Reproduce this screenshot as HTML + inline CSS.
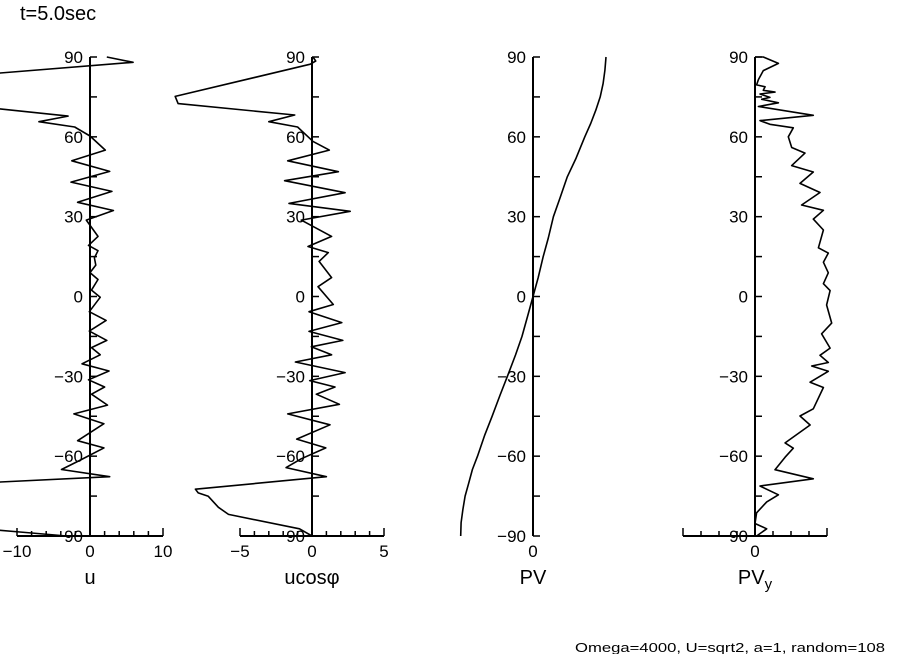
<!DOCTYPE html>
<html><head><meta charset="utf-8"><style>
body{margin:0;background:#fff;}
svg{display:block;font-family:"Liberation Sans",sans-serif;}
</style></head><body>
<svg id="chart" width="904" height="654" viewBox="0 0 904 654" xmlns="http://www.w3.org/2000/svg">
<text x="20" y="20" font-size="20">t=5.0sec</text>
<text x="885" y="652" font-size="13" text-anchor="end" textLength="310" lengthAdjust="spacingAndGlyphs">Omega=4000, U=sqrt2, a=1, random=108</text>
</svg>
<script>
const latTicks = [90, 60, 30, 0, -30, -60, -90];
const uLat = [-90,-88.5,-86,-78,-72,-69.7,-67.7,-65,-61.6,-56.9,-54.2,-47.8,-44.1,-40.8,-36.7,-34,-31.3,-28,-25.3,-21.9,-19.2,-16.5,-13,-9,-5.7,-0.3,2.4,6.4,9,11.8,14.5,17.2,19.2,22.6,28.7,32.3,35.4,39.5,43,47,51,55,60.3,63.7,65.7,67.8,70.5,73,80,84,88,90];
const uVal = [-3.2,-9.6,-20,-22,-20,-12.3,2.7,-3.9,-1.4,1.9,-1.7,1.9,-2.2,2.4,0.2,2.0,-0.2,2.6,-1.1,1.4,0.2,2.3,-0.1,2.2,-0.1,1.4,0.2,1.1,0,0.8,0.6,1.1,-0.2,1.1,-0.5,3.2,-1.7,3.0,-2.6,2.7,-2.5,2.1,0,-2.1,-7,-3,-12.3,-20,-22,-12.3,5.9,2.3];
const ucLat = [-90,-87.3,-81.9,-79.2,-75.1,-73.8,-72.4,-67.7,-64.3,-61,-56.9,-53.6,-48.2,-44.1,-40.5,-36.7,-34,-31.6,-28.6,-24.6,-21.9,-18.9,-16.5,-13.1,-9.8,-5.7,-3,3.7,7.1,13.2,16.5,18.8,22.6,28.7,32,35,39,43.5,46.9,51,55,58.3,63.7,65.7,68.2,72.5,75.2,87.3,88.5,90];
const ucVal = [0,-0.87,-5.8,-6.5,-7.2,-7.9,-8.1,1.0,-1.8,-0.75,0.96,-1.06,1.25,-1.69,1.9,0.3,1.6,-0.16,2.3,-1.15,1.36,-0.05,2.14,-0.21,2.07,-0.21,1.48,0.42,1.36,0.49,1.13,-0.28,1.36,-0.75,2.65,-1.6,2.3,-1.9,1.83,-1.69,1.2,0.07,-1.0,-3.0,-1.2,-9.3,-9.5,-0.12,0.26,0.07];
const pvLat = [-90,-85,-80,-75,-70,-65,-60,-52,-45,-37,-30,-22,-15,-7,0,7,15,22,30,37,45,52,60,65,70,75,80,85,90];
const pvVal = [-0.99,-0.985,-0.96,-0.93,-0.88,-0.83,-0.76,-0.66,-0.56,-0.45,-0.35,-0.24,-0.15,-0.07,0,0.07,0.14,0.21,0.28,0.37,0.47,0.59,0.71,0.79,0.86,0.92,0.96,0.985,1.0];
const pyLat = [90,90,87.6,84.9,81.5,79.5,78.8,77.5,76.8,76.1,74.8,74.1,72.8,71.4,68.1,66.1,64.7,63.4,60,56,53.9,49.2,46.8,42.5,39.1,34.4,32.4,29.1,25,18.3,16.3,12.9,8.9,4.8,2.2,-3.2,-10,-14,-19.4,-22.1,-24.8,-26.1,-28.1,-32.2,-34.2,-42.2,-44.9,-48.3,-55,-57,-60.4,-65.1,-68.5,-71.2,-74.5,-77.2,-81.3,-85.3,-87.3,-90];
const pyVal = [0,0.46,1.3,0.46,0.19,0.09,0.56,0.46,1.11,0.28,0.83,0.37,1.3,0.19,3.24,0.28,0.83,2.13,1.85,2.04,2.78,2.04,3.24,2.5,3.61,2.59,3.8,3.24,3.8,3.52,4.07,3.8,4.07,3.8,4.17,3.98,4.26,3.7,4.17,3.61,4.07,3.15,4.07,3.06,3.8,3.24,2.5,3.06,1.67,2.13,1.67,1.11,3.24,0.28,1.3,0.65,0.09,0,0.65,0.09];

const NS = 'http://www.w3.org/2000/svg';
const svg = document.getElementById('chart');
const yTop = 57, yBot = 536;
function yScale(lat){ return yTop + (90 - lat) * (yBot - yTop) / 180; }
function mk(tag, attrs, parent){ const e = document.createElementNS(NS, tag); for (const k in attrs) e.setAttribute(k, attrs[k]); (parent||svg).appendChild(e); return e; }

const panels = [
 {key:'u', x0:90, ppu:7.3, lat:uLat, val:uVal, xTicks:[-10,0,10], xMin:-10, xMax:10, minor:2, label:'u', labelX:90},
 {key:'ucos', x0:312, ppu:14.4, lat:ucLat, val:ucVal, xTicks:[-5,0,5], xMin:-5, xMax:5, minor:1, label:'ucos\u03c6', labelX:312},
 {key:'pv', x0:533, ppu:73, lat:pvLat, val:pvVal, xTicks:[0], xMin:null, xMax:null, minor:null, label:'PV', labelX:533},
 {key:'pvy', x0:755, ppu:18, lat:pyLat, val:pyVal, xTicks:[0], xMin:-4, xMax:4, minor:1, label:'PV', sub:'y', labelX:755}
];

panels.forEach(p => {
  const g = mk('g', {});
  
  
  const xs = v => p.x0 + v * p.ppu;
  const va = mk('line', {x1:p.x0, x2:p.x0, y1:yTop, y2:yBot, stroke:'#000', 'stroke-width':2}, g);
  
  
  for (let lat = -90; lat <= 90; lat += 15) {
    const t = mk('line', {x1:p.x0, x2:p.x0 + 7, y1:yScale(lat), y2:yScale(lat), stroke:'#000', 'stroke-width':1.5}, g);
    
    
  }
  latTicks.forEach(lat => {
    const t = mk('text', {x:p.x0 - 7, y:yScale(lat) + 6, 'font-size':17, 'text-anchor':'end'}, g);
    
    
    t.textContent = lat < 0 ? '\u2212' + (-lat) : String(lat);
  });
  if (p.xMin !== null) {
    const ha = mk('line', {x1:xs(p.xMin), x2:xs(p.xMax), y1:yBot, y2:yBot, stroke:'#000', 'stroke-width':2}, g);
    
    
    for (let v = p.xMin; v <= p.xMax + 1e-9; v += p.minor) {
      const big = (v === p.xMin || v === p.xMax);
      const t = mk('line', {x1:xs(v), x2:xs(v), y1:yBot, y2:yBot - (big ? 8 : 5), stroke:'#000', 'stroke-width':1.5}, g);
      
      
    }
  }
  p.xTicks.forEach(v => {
    const t = mk('text', {x:xs(v), y:yBot + 21, 'font-size':17, 'text-anchor':'middle'}, g);
    
    
    t.textContent = v < 0 ? '\u2212' + (-v) : String(v);
  });
  const tt = mk('text', {x:p.labelX, y:584, 'font-size':20, 'text-anchor':'middle'}, g);
  
  
  tt.textContent = p.label;
  if (p.sub) {
    const s = mk('tspan', {'font-size':15, dy:5}, tt);
    s.textContent = p.sub;
  }
  const d = p.lat.map((lat, i) => (i ? 'L' : 'M') + xs(p.val[i]).toFixed(1) + ',' + yScale(lat).toFixed(1)).join(' ');
  const path = mk('path', {d:d, fill:'none', stroke:'#000', 'stroke-width':1.6, 'stroke-linejoin':'round'}, g);
  
  
});
</script>
</body></html>
